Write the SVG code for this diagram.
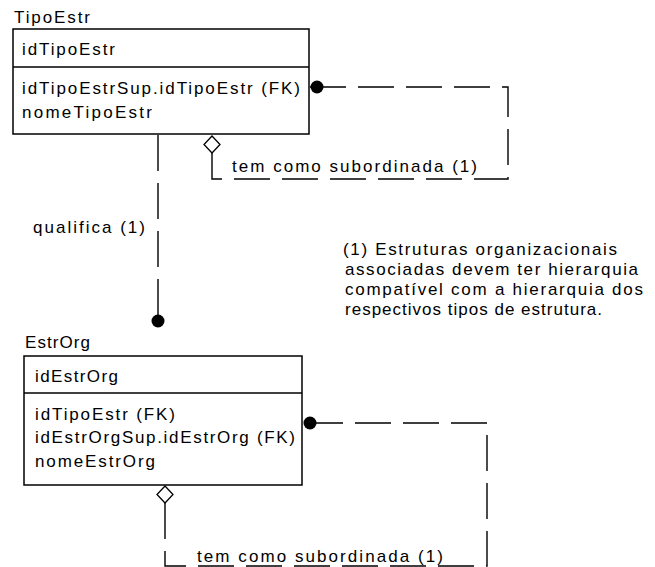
<svg xmlns="http://www.w3.org/2000/svg" width="655" height="567" viewBox="0 0 655 567">
<style>
text{font-family:"Liberation Sans",Arial,sans-serif;font-size:17px;fill:#000}
.box{fill:#fff;stroke:#000;stroke-width:1.5}
.sep{stroke:#000;stroke-width:1.5}
.rel{fill:none;stroke:#000;stroke-width:1.4;stroke-dasharray:36 12}
.dot{fill:#000}
.dia{fill:#fff;stroke:#000;stroke-width:1.3}
</style>
<rect width="655" height="567" fill="#fff"/>
<g id="connectors">
<path class="rel" d="M158,135 V315"/>
<circle class="dot" cx="158" cy="321" r="6.5"/>
<path class="rel" d="M212,153 V179 H508 V87 H310"/>
<circle class="dot" cx="317" cy="87" r="6.5"/>
<polygon class="dia" points="212,136 220,144.5 212,153 204,144.5"/>
<path class="rel" d="M165,503 V566 H487 V423 H303"/>
<circle class="dot" cx="310" cy="423" r="6.5"/>
<polygon class="dia" points="165,486 173,494.5 165,503 157,494.5"/>
</g>
<g id="TipoEstr">
<text x="14" y="23" textLength="76" lengthAdjust="spacing">TipoEstr</text>
<rect class="box" x="13" y="29" width="296" height="105"/>
<line class="sep" x1="13" y1="67" x2="309" y2="67"/>
<text x="22" y="55" textLength="93" lengthAdjust="spacing">idTipoEstr</text>
<text x="22" y="94" textLength="278" lengthAdjust="spacing">idTipoEstrSup.idTipoEstr (FK)</text>
<text x="22" y="118" textLength="130" lengthAdjust="spacing">nomeTipoEstr</text>
</g>
<g id="EstrOrg">
<text x="25" y="348" textLength="65" lengthAdjust="spacing">EstrOrg</text>
<rect class="box" x="24" y="356" width="278" height="129"/>
<line class="sep" x1="24" y1="393" x2="302" y2="393"/>
<text x="35" y="382" textLength="83" lengthAdjust="spacing">idEstrOrg</text>
<text x="35" y="420" textLength="140" lengthAdjust="spacing">idTipoEstr (FK)</text>
<text x="35" y="443" textLength="260" lengthAdjust="spacing">idEstrOrgSup.idEstrOrg (FK)</text>
<text x="35" y="467" textLength="120" lengthAdjust="spacing">nomeEstrOrg</text>
</g>
<g id="labels">
<text x="232" y="172" textLength="245" lengthAdjust="spacing">tem como subordinada (1)</text>
<text x="33" y="233" textLength="112" lengthAdjust="spacing">qualifica (1)</text>
<text x="197" y="562" textLength="246" lengthAdjust="spacing">tem como subordinada (1)</text>
</g>
<g id="note">
<text x="343" y="255" textLength="274" lengthAdjust="spacing">(1) Estruturas organizacionais</text>
<text x="345" y="275" textLength="293" lengthAdjust="spacing">associadas devem ter hierarquia</text>
<text x="345" y="295" textLength="298" lengthAdjust="spacing">compatível com a hierarquia dos</text>
<text x="345" y="315" textLength="257" lengthAdjust="spacing">respectivos tipos de estrutura.</text>
</g>
</svg>
